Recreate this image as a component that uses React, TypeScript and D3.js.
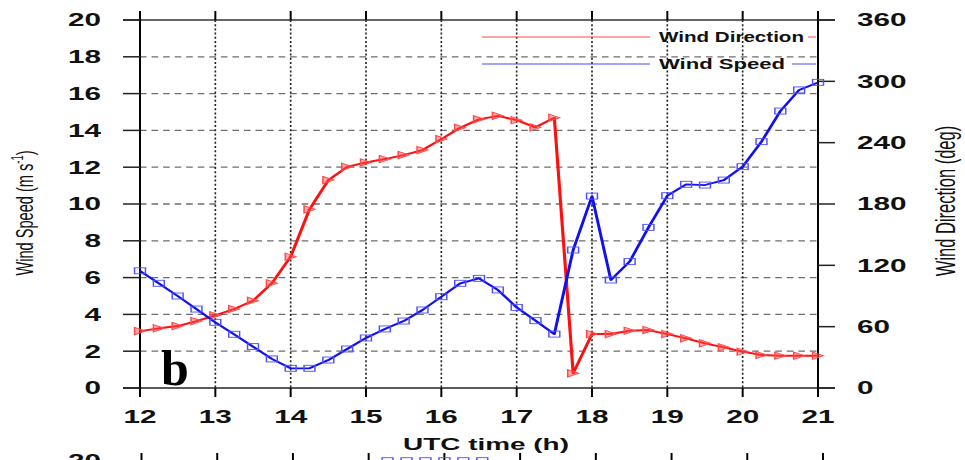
import React from "react";
import * as d3 from "d3";

// UTC time of each sample (h)
const hours = [
  12.0, 12.25, 12.5, 12.75, 13.0, 13.25, 13.5, 13.75, 14.0, 14.25, 14.5, 14.75,
  15.0, 15.25, 15.5, 15.75, 16.0, 16.25, 16.5, 16.75, 17.0, 17.25, 17.5, 17.75,
  18.0, 18.25, 18.5, 18.75, 19.0, 19.25, 19.5, 19.75, 20.0, 20.25, 20.5, 20.75, 21.0,
];

// Wind speed (m s-1), left axis
const windSpeed = [
  6.37, 5.69, 5.0, 4.29, 3.57, 2.92, 2.25, 1.58, 1.07, 1.07, 1.52, 2.12,
  2.72, 3.21, 3.64, 4.24, 4.96, 5.69, 5.96, 5.33, 4.38, 3.66, 2.93, 7.5,
  10.43, 5.87, 6.87, 8.73, 10.45, 11.07, 11.03, 11.3, 12.03, 13.39, 15.05, 16.2, 16.61,
];

// Wind direction (deg), right axis
const windDirection = [
  55.7, 58.4, 60.6, 65.5, 71.1, 77.3, 85.4, 102.4, 128.4, 174.8, 203.4, 216.4,
  220.7, 224.0, 227.9, 232.8, 243.5, 254.6, 262.8, 266.3, 262.0, 255.0, 264.4, 14.4,
  52.8, 52.8, 56.0, 56.7, 52.8, 48.6, 43.7, 39.8, 35.5, 32.3, 31.6, 31.6, 31.6,
];

// Top edge of the next panel (only its upper row shows)
const nextPanelHours = [15.25, 15.5, 15.75, 16.0, 16.25, 16.5];
const nextPanelSpeed = [20, 20, 20, 20, 20, 20];

const hourTicks = [12, 13, 14, 15, 16, 17, 18, 19, 20, 21];
const speedTicks = [0, 2, 4, 6, 8, 10, 12, 14, 16, 18, 20];
const directionTicks = [0, 60, 120, 180, 240, 300, 360];

const seriesNames = ["Wind Direction", "Wind Speed"];
const panelLetter = "b";

// horizontal stretch of the whole figure
const S = 1.65;
const sx = (px: number) => px / S;

const FONT = "'Liberation Sans', Arial, Helvetica, sans-serif";

export default function App() {
  const x = d3.scaleLinear().domain([12, 21]).range([sx(140), sx(818)]);
  const ySpeed = d3.scaleLinear().domain([0, 20]).range([388, 20]);
  const yDir = d3.scaleLinear().domain([0, 360]).range([388, 20]);

  const x2 = d3.scaleLinear().domain([12, 21]).range([sx(141.5), sx(823)]);
  const ySpeed2 = d3.scaleLinear().domain([0, 20]).range([829, 461]);

  const speedPts = hours.map((h, i) => [x(h), ySpeed(windSpeed[i])] as [number, number]);
  const dirPts = hours.map((h, i) => [x(h), yDir(windDirection[i])] as [number, number]);
  const nextPts = nextPanelHours.map((h, i) => [x2(h), ySpeed2(nextPanelSpeed[i])] as [number, number]);

  const line = d3.line<[number, number]>();

  const sq = 6.6; // square marker size (local units)
  const tri = (cx: number, cy: number) =>
    `M${cx - 3.3},${cy - 3.6}L${cx + 3.3},${cy}L${cx - 3.3},${cy + 3.6}Z`;

  const left = sx(140);
  const right = sx(818);

  return (
    <svg
      width={965}
      height={460}
      style={{ position: "absolute", left: 0, top: 0, background: "#fff" }}
    >
      <rect x={0} y={0} width={965} height={460} fill="#fff" />
      <g transform={`scale(${S},1)`}>
        {/* horizontal dashed grid */}
        {speedTicks.slice(1, -1).map((v) => (
          <line
            key={`hg${v}`}
            x1={left}
            x2={right}
            y1={ySpeed(v)}
            y2={ySpeed(v)}
            stroke="#6e6e6e"
            strokeWidth={1.3}
            strokeDasharray="4,3"
          />
        ))}
        {/* vertical dotted grid */}
        {hourTicks.slice(1, -1).map((h) => (
          <line
            key={`vg${h}`}
            x1={x(h)}
            x2={x(h)}
            y1={20}
            y2={388}
            stroke="#222"
            strokeWidth={1}
            strokeDasharray="2,2.2"
          />
        ))}

        {/* frame */}
        <line x1={sx(123)} x2={sx(835)} y1={20} y2={20} stroke="#333" strokeWidth={1.5} />
        <line x1={sx(123)} x2={sx(835)} y1={388} y2={388} stroke="#222" strokeWidth={1.6} />
        <line x1={left} x2={left} y1={11} y2={397} stroke="#000" strokeWidth={1.2} />
        <line x1={right} x2={right} y1={11} y2={397} stroke="#000" strokeWidth={1.2} />

        {/* ticks */}
        {hourTicks.map((h) => (
          <g key={`ht${h}`}>
            <line x1={x(h)} x2={x(h)} y1={11} y2={20} stroke="#000" strokeWidth={1.2} />
            <line x1={x(h)} x2={x(h)} y1={388} y2={397} stroke="#000" strokeWidth={1.2} />
            <text
              x={x(h)}
              y={423}
              textAnchor="middle"
              fontFamily={FONT}
              fontWeight="bold"
              fontSize={18}
              fill="#111"
            >
              {h}
            </text>
          </g>
        ))}
        {speedTicks.map((v) => (
          <g key={`st${v}`}>
            <line x1={sx(123)} x2={left} y1={ySpeed(v)} y2={ySpeed(v)} stroke="#222" strokeWidth={1.5} />
            <text
              x={sx(101)}
              y={ySpeed(v) + 6.5}
              textAnchor="end"
              fontFamily={FONT}
              fontWeight="bold"
              fontSize={18}
              fill="#111"
            >
              {v}
            </text>
          </g>
        ))}
        {directionTicks.map((v) => (
          <g key={`dt${v}`}>
            <line x1={right} x2={sx(835)} y1={yDir(v)} y2={yDir(v)} stroke="#222" strokeWidth={1.5} />
            <text
              x={sx(857)}
              y={yDir(v) + 6.5}
              textAnchor="start"
              fontFamily={FONT}
              fontWeight="bold"
              fontSize={18}
              fill="#111"
            >
              {v}
            </text>
          </g>
        ))}

        {/* axis titles */}
        <text
          x={sx(486)}
          y={450}
          textAnchor="middle"
          fontFamily={FONT}
          fontWeight="bold"
          fontSize={17}
          textLength={sx(166)}
          lengthAdjust="spacingAndGlyphs"
          fill="#111"
        >
          UTC time (h)
        </text>
        <text
          transform={`translate(${sx(33)},213) rotate(-90)`}
          textAnchor="middle"
          fontFamily={FONT}
          fontSize={14.6}
          fill="#111"
        >
          Wind Speed (m s
          <tspan dy={-6} fontSize={9.5}>-1</tspan>
          <tspan dy={6}>)</tspan>
        </text>
        <text
          transform={`translate(${sx(955)},201) rotate(-90)`}
          textAnchor="middle"
          fontFamily={FONT}
          fontSize={16.5}
          fill="#111"
        >
          Wind Direction (deg)
        </text>

        {/* legend */}
        <line x1={sx(482)} x2={sx(650)} y1={37} y2={37} stroke="#ff4a4a" strokeWidth={1} />
        <line x1={sx(808)} x2={sx(816)} y1={37} y2={37} stroke="#ff4a4a" strokeWidth={1} />
        <text
          x={sx(659)}
          y={42.5}
          fontFamily={FONT}
          fontWeight="bold"
          fontSize={14}
          textLength={sx(145)}
          lengthAdjust="spacingAndGlyphs"
          fill="#111"
        >
          {seriesNames[0]}
        </text>
        <line x1={sx(482)} x2={sx(650)} y1={64} y2={64} stroke="#4a4aff" strokeWidth={1} />
        <line x1={sx(792)} x2={sx(816)} y1={64} y2={64} stroke="#4a4aff" strokeWidth={1} />
        <text
          x={sx(659)}
          y={69.5}
          fontFamily={FONT}
          fontWeight="bold"
          fontSize={14}
          textLength={sx(126)}
          lengthAdjust="spacingAndGlyphs"
          fill="#111"
        >
          {seriesNames[1]}
        </text>

        {/* wind direction */}
        <path d={line(dirPts) ?? ""} fill="none" stroke="#ff1010" strokeWidth={1.9} strokeLinejoin="round" />
        {dirPts.map(([px, py], i) => (
          <path
            key={`dm${i}`}
            d={tri(px, py)}
            fill="rgba(255,70,70,0.45)"
            stroke="#ff4a4a"
            strokeWidth={0.9}
          />
        ))}

        {/* wind speed */}
        <path d={line(speedPts) ?? ""} fill="none" stroke="#1010f0" strokeWidth={1.8} strokeLinejoin="round" />
        {speedPts.map(([px, py], i) => (
          <rect
            key={`sm${i}`}
            x={px - sq / 2}
            y={py - sq / 2 + 0.3}
            width={sq}
            height={sq - 0.6}
            fill="none"
            stroke="#5050ff"
            strokeWidth={0.9}
          />
        ))}

        {/* next panel, top edge */}
        {hourTicks.map((h) => (
          <line key={`nt${h}`} x1={x2(h)} x2={x2(h)} y1={453} y2={462} stroke="#000" strokeWidth={1.2} />
        ))}
        <text
          x={sx(101)}
          y={ySpeed2(20) + 6.5}
          textAnchor="end"
          fontFamily={FONT}
          fontWeight="bold"
          fontSize={18}
          fill="#111"
        >
          20
        </text>
        <path d={line(nextPts) ?? ""} fill="none" stroke="#1010f0" strokeWidth={1.8} />
        {nextPts.map(([px, py], i) => (
          <rect
            key={`nm${i}`}
            x={px - sq / 2}
            y={py - sq / 2}
            width={sq}
            height={sq - 0.6}
            fill="none"
            stroke="#5050ff"
            strokeWidth={0.9}
          />
        ))}
      </g>

      {/* panel letter */}
      <text
        x={161}
        y={385}
        fontFamily="'Liberation Serif', 'Times New Roman', serif"
        fontWeight="bold"
        fontSize={50}
        fill="#000"
      >
        {panelLetter}
      </text>
    </svg>
  );
}
